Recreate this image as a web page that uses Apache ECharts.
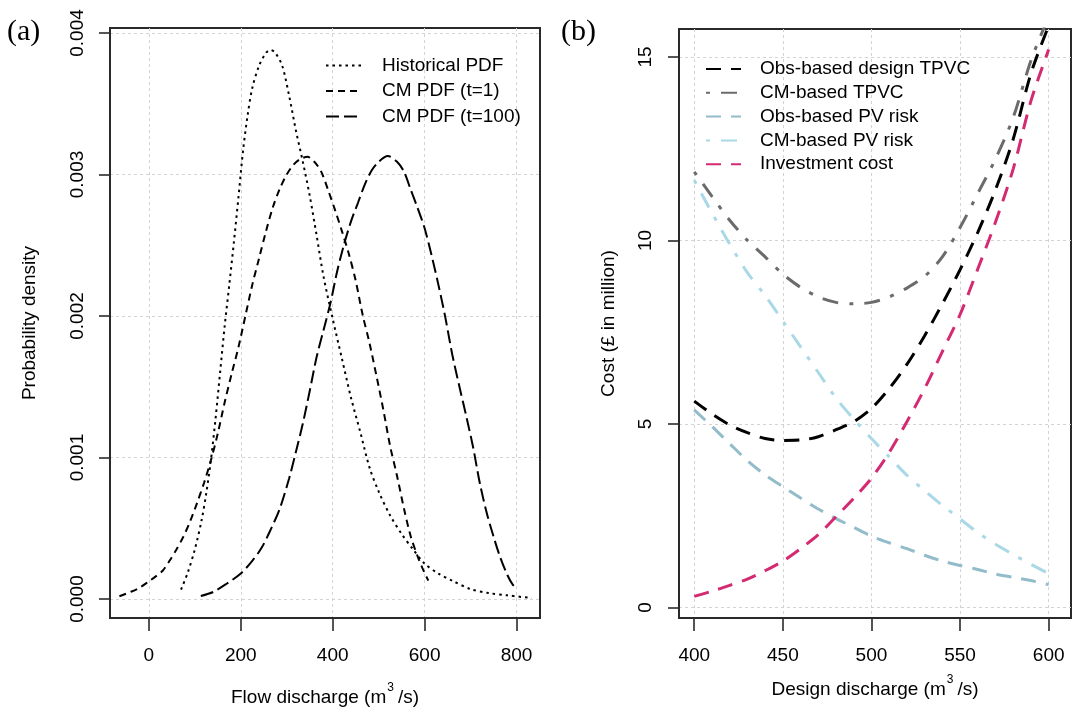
<!DOCTYPE html>
<html>
<head>
<meta charset="utf-8">
<script src="https://cdn.jsdelivr.net/npm/echarts@6/dist/echarts.min.js"></script>
<style>
  html, body { margin: 0; padding: 0; background: #fff; }
  #chart { width: 1072px; height: 713px; }
</style>
</head>
<body>
<div id="chart"></div>
<script>
// ---- Panel (a): probability density of flow discharge ----
const histX = [70, 85, 100, 115, 125, 135, 145, 155, 165, 175, 185, 195, 205, 215, 225, 240, 255, 265, 275, 290, 305, 320, 335, 350, 365, 380, 400, 420, 440, 460, 480, 500, 525, 550, 575, 600, 630, 660, 700, 740, 780, 833];
const histY = [0.000066, 0.00019, 0.00035, 0.00056, 0.00075, 0.00098, 0.00127, 0.00160, 0.00193, 0.00222, 0.00252, 0.00284, 0.00317, 0.00342, 0.00361, 0.00377, 0.00386, 0.00388, 0.00386, 0.00377, 0.00356, 0.00331, 0.00309, 0.00285, 0.00257, 0.00228, 0.00198, 0.00170, 0.00142, 0.00118, 0.00093, 0.00076, 0.00059, 0.00046, 0.00035, 0.00025, 0.00018, 0.00013, 0.00007, 0.000042, 0.000026, 0.000007];

const cm1X = [-64, -40, -20, 0, 15, 30, 45, 60, 75, 90, 105, 120, 135, 150, 165, 180, 195, 210, 225, 240, 255, 270, 285, 300, 315, 330, 345, 360, 375, 390, 405, 420, 435, 450, 465, 480, 495, 510, 525, 540, 555, 570, 585, 595, 608];
const cm1Y = [0.00002, 0.00005, 0.00008, 0.000125, 0.00016, 0.0002, 0.00027, 0.00035, 0.00044, 0.00055, 0.00068, 0.00082, 0.00098, 0.00117, 0.00139, 0.00159, 0.00178, 0.002, 0.00222, 0.00241, 0.0026, 0.00277, 0.0029, 0.003, 0.00307, 0.00311, 0.003125, 0.00309, 0.00302, 0.00289, 0.00275, 0.0026, 0.00244, 0.00225, 0.00201, 0.00181, 0.00158, 0.00134, 0.00108, 0.00087, 0.00064, 0.00044, 0.0003, 0.00022, 0.00013];

const cm100X = [113, 140, 170, 200, 225, 245, 265, 285, 305, 320, 335, 350, 365, 380, 395, 410, 425, 440, 455, 470, 485, 500, 520, 540, 555, 570, 585, 600, 615, 630, 645, 660, 675, 690, 705, 720, 735, 750, 765, 780, 792, 800];
const cm100Y = [0.000022, 0.00005, 0.00011, 0.00018, 0.00027, 0.00036, 0.00049, 0.00064, 0.00085, 0.00104, 0.00124, 0.00147, 0.00171, 0.0019, 0.00209, 0.00232, 0.00251, 0.00267, 0.0028, 0.00293, 0.00303, 0.00309, 0.00313, 0.00309, 0.00302, 0.00289, 0.00276, 0.00262, 0.00243, 0.00222, 0.00199, 0.00173, 0.00151, 0.0013, 0.00108, 0.00082, 0.00061, 0.00044, 0.00029, 0.00017, 0.0001, 0.00008];

const pdfXTicks = [0, 200, 400, 600, 800];
const pdfYTicks = [0, 0.001, 0.002, 0.003, 0.004];

// ---- Panel (b): costs against design discharge (million GBP) ----
const designQ = [400, 410, 420, 430, 440, 450, 460, 470, 480, 490, 500, 510, 520, 530, 540, 550, 560, 570, 580, 590, 600];
const obsTPVC = [5.62, 5.27, 4.97, 4.76, 4.60, 4.55, 4.56, 4.65, 4.84, 5.06, 5.42, 5.96, 6.62, 7.40, 8.27, 9.20, 10.22, 11.38, 12.76, 14.55, 15.85];
const cmTPVC = [11.87, 11.20, 10.55, 10.00, 9.55, 9.08, 8.72, 8.46, 8.31, 8.27, 8.31, 8.46, 8.70, 9.02, 9.55, 10.35, 11.28, 12.22, 13.35, 14.90, 16.10];
const obsRisk = [5.38, 4.93, 4.46, 4.00, 3.61, 3.29, 2.98, 2.68, 2.42, 2.18, 1.94, 1.76, 1.60, 1.42, 1.26, 1.14, 1.03, 0.91, 0.82, 0.73, 0.62];
const cmRisk = [11.64, 10.75, 9.90, 9.12, 8.50, 7.80, 7.10, 6.40, 5.70, 5.13, 4.60, 4.10, 3.60, 3.18, 2.78, 2.41, 2.04, 1.72, 1.44, 1.17, 0.92];
const investCost = [0.30, 0.44, 0.60, 0.77, 1.00, 1.26, 1.60, 1.98, 2.47, 2.97, 3.52, 4.22, 5.06, 5.96, 6.97, 7.98, 9.22, 10.50, 11.95, 13.80, 15.20];

const costXTicks = [400, 450, 500, 550, 600];
const costYTicks = [0, 5, 10, 15];

const pdfNames = ['Historical PDF', 'CM PDF (t=1)', 'CM PDF (t=100)'];
const costNames = ['Obs-based design TPVC', 'CM-based TPVC', 'Obs-based PV risk', 'CM-based PV risk', 'Investment cost'];

const zip = (xs, ys) => xs.map((x, i) => [x, ys[i]]);

const FONT = 'Liberation Sans, Arial, sans-serif';
const INK = '#000';
const BOX = '#2a2a2a';

function valueAxis(extra) {
  return Object.assign({
    type: 'value',
    axisLine: { show: true, onZero: false, lineStyle: { color: BOX, width: 2 } },
    splitLine: { show: true, lineStyle: { color: '#d3d3d3', width: 1, type: [3, 3] } },
    nameLocation: 'middle',
    nameTextStyle: { color: INK, fontFamily: FONT, fontSize: 19, lineHeight: 19 }
  }, extra);
}

function ticks(values, len) {
  return { show: true, length: len, customValues: values, lineStyle: { color: BOX, width: 1.6 } };
}

function labels(values, margin, extra) {
  return Object.assign({ customValues: values, margin: margin, color: INK, fontFamily: FONT, fontSize: 19, lineHeight: 19 }, extra || {});
}

const supRich = {
  sup: { fontFamily: FONT, fontSize: 12, lineHeight: 12, verticalAlign: 'top', padding: [0, 4, 0, 1], color: INK }
};

function lineSeries(name, idx, xs, ys, color, width, dash) {
  return {
    type: 'line', name: name,
    xAxisIndex: idx, yAxisIndex: idx,
    data: zip(xs, ys),
    smooth: 0.3,
    symbol: 'none', showSymbol: false,
    clip: true,
    lineStyle: { color: color, width: width, type: dash, cap: 'butt' },
    itemStyle: { color: color },
    animation: false
  };
}

const chart = echarts.init(document.getElementById('chart'), null, { renderer: 'canvas' });

chart.setOption({
  backgroundColor: '#fff',
  animation: false,
  title: [
    { text: '(a)', left: 7, top: 17, padding: 0,
      textStyle: { fontFamily: 'Liberation Serif, Times New Roman, serif', fontSize: 30, fontWeight: 'normal', color: INK } },
    { text: '(b)', left: 561, top: 17, padding: 0,
      textStyle: { fontFamily: 'Liberation Serif, Times New Roman, serif', fontSize: 30, fontWeight: 'normal', color: INK } }
  ],
  grid: [
    { left: 110, top: 28, width: 430, height: 590, show: true, borderColor: BOX, borderWidth: 2,
      containLabel: false, outerBoundsMode: 'none' },
    { left: 679, top: 29, width: 392, height: 589, show: true, borderColor: BOX, borderWidth: 2,
      containLabel: false, outerBoundsMode: 'none' }
  ],
  legend: [
    {
      data: pdfNames, orient: 'vertical', left: 325, top: 56, padding: 0,
      itemWidth: 35, itemHeight: 14, itemGap: 6.5,
      itemStyle: { opacity: 0 },
      textStyle: { color: INK, fontFamily: FONT, fontSize: 19, lineHeight: 19, padding: [0, 0, 0, 16] }
    },
    {
      data: costNames, orient: 'vertical', left: 705, top: 59.5, padding: 0,
      itemWidth: 35, itemHeight: 14, itemGap: 4.8,
      itemStyle: { opacity: 0 },
      textStyle: { color: INK, fontFamily: FONT, fontSize: 19, lineHeight: 19, padding: [0, 0, 0, 14] }
    }
  ],
  xAxis: [
    valueAxis({
      gridIndex: 0, min: -84.5, max: 851,
      axisTick: ticks(pdfXTicks, 13),
      axisLabel: labels(pdfXTicks, 28),
      name: 'Flow discharge (m{sup|3}/s)', nameGap: 64,
      nameTextStyle: { color: INK, fontFamily: FONT, fontSize: 19, lineHeight: 32, rich: supRich }
    }),
    valueAxis({
      gridIndex: 1, min: 391.4, max: 612.6,
      axisTick: ticks(costXTicks, 13),
      axisLabel: labels(costXTicks, 28),
      name: 'Design discharge (m{sup|3}/s)', nameGap: 56,
      nameTextStyle: { color: INK, fontFamily: FONT, fontSize: 19, lineHeight: 32, rich: supRich }
    })
  ],
  yAxis: [
    valueAxis({
      gridIndex: 0, min: -0.000134, max: 0.004035,
      axisTick: ticks(pdfYTicks, 11),
      axisLabel: labels(pdfYTicks, 23, { rotate: 90, formatter: v => v.toFixed(3) }),
      name: 'Probability density', nameGap: 71
    }),
    valueAxis({
      gridIndex: 1, min: -0.29, max: 15.76,
      axisTick: ticks(costYTicks, 11),
      axisLabel: labels(costYTicks, 24, { rotate: 90 }),
      name: 'Cost (\u00a3 in million)', nameGap: 61
    })
  ],
  series: [
    lineSeries(pdfNames[0], 0, histX, histY, '#000', 2, [2.5, 4]),
    lineSeries(pdfNames[1], 0, cm1X, cm1Y, '#000', 2, [7, 5]),
    lineSeries(pdfNames[2], 0, cm100X, cm100Y, '#000', 2, [13, 5]),
    lineSeries(costNames[0], 1, designQ, obsTPVC, '#000000', 3, [15, 10]),
    lineSeries(costNames[1], 1, designQ, cmTPVC, '#6b6b6b', 3, [4, 11, 16, 11]),
    lineSeries(costNames[2], 1, designQ, obsRisk, '#93bccb', 3, [15, 10]),
    lineSeries(costNames[3], 1, designQ, cmRisk, '#a9d8e6', 3, [4, 11, 16, 11]),
    lineSeries(costNames[4], 1, designQ, investCost, '#d42a72', 3, [15, 10])
  ]
});
</script>
</body>
</html>
